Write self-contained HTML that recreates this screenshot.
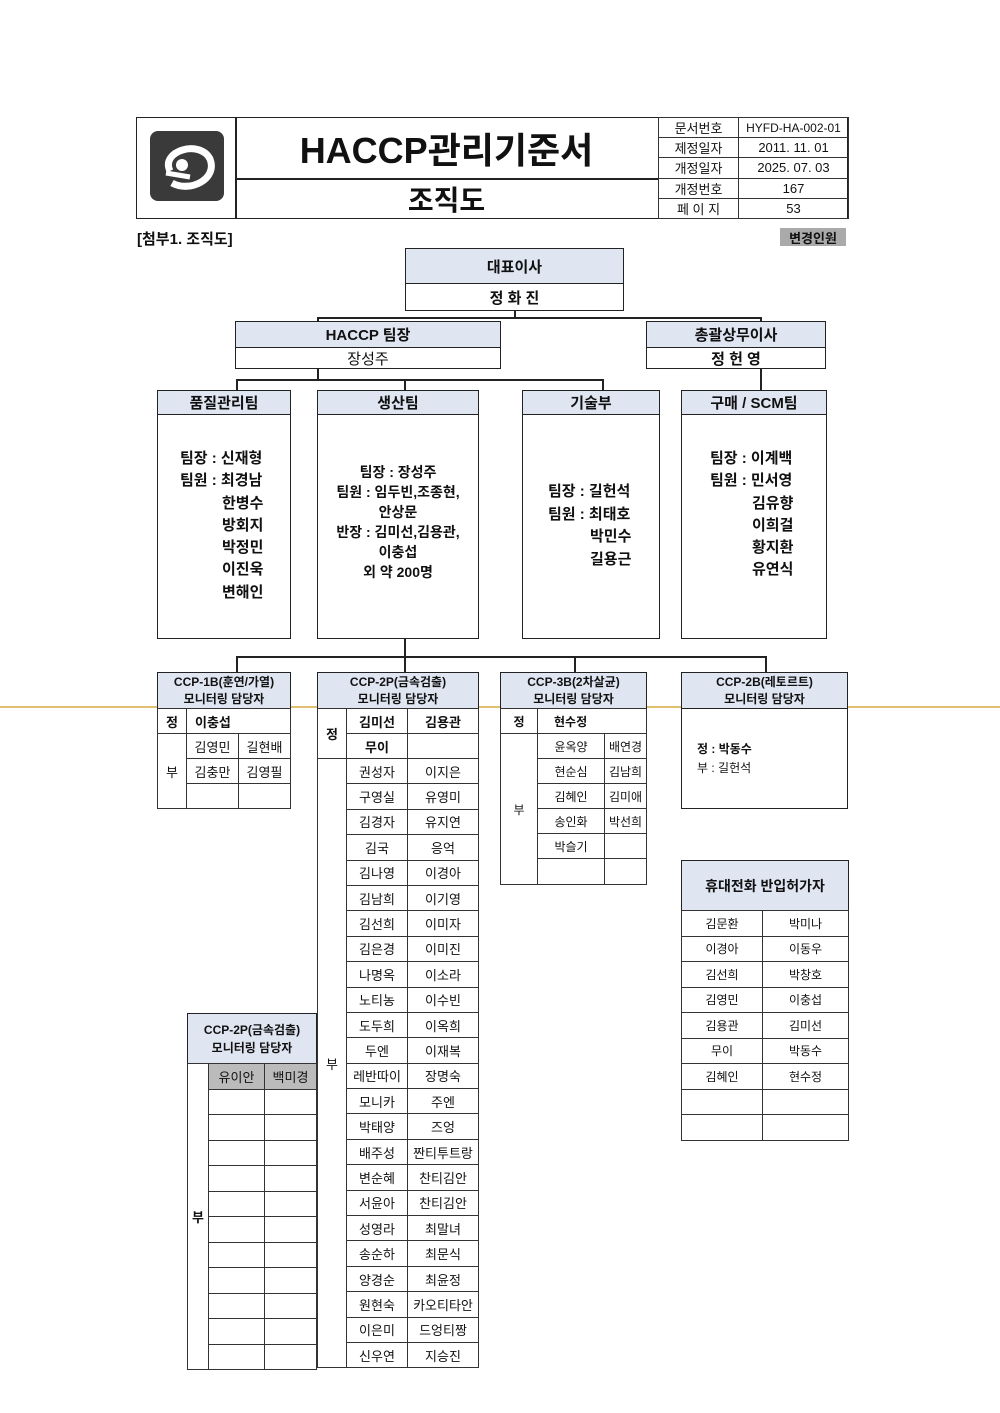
<!DOCTYPE html>
<html><head><meta charset="utf-8"><style>
body{margin:0;background:#fff;}
#p{position:relative;width:1000px;height:1413px;font-family:"Liberation Sans","Noto Sans CJK KR",sans-serif;color:#111;overflow:hidden}
.a{position:absolute;box-sizing:border-box}
.b{border:1.5px solid #222}
.h{background:#dfe5f1;font-weight:bold}
.c{display:flex;align-items:center;justify-content:center;text-align:center}
.l{position:absolute;background:#222}
table{border-collapse:collapse;position:absolute;font-size:13px}
td{border:1px solid #333;text-align:center;padding:0;white-space:nowrap}
</style></head><body><div id="p">
<!-- header -->
<div class="a b" style="left:136px;top:117px;width:712px;height:102px"></div>
<div class="l" style="left:235px;top:117px;width:1.5px;height:102px"></div>
<div class="l" style="left:235px;top:178px;width:423px;height:1.5px"></div>
<div class="a" style="left:150px;top:131px;width:74px;height:70px;background:#3a3a3a;border-radius:8px"></div>
<svg class="a" style="left:150px;top:131px" width="74" height="70"><path d="M20 40 C10 20,50 8,60 28 C68 48,40 62,22 52" fill="none" stroke="#fff" stroke-width="7"/><circle cx="32" cy="34" r="6" fill="#fff"/><path d="M16 42 L40 46" stroke="#fff" stroke-width="5"/></svg>
<div class="a c" style="left:235px;top:117px;width:423px;height:61px;font-size:36px;font-weight:bold">HACCP관리기준서</div>
<div class="a c" style="left:235px;top:178px;width:423px;height:41px;font-size:28px;font-weight:bold">조직도</div>
<table style="left:658px;top:117px;width:190px;height:102px;font-size:13px;table-layout:fixed;border:1.5px solid #222"><col style="width:80px"><col style="width:110px"><tr style="height:20px"><td>문서번호</td><td style="font-size:12px">HYFD-HA-002-01</td></tr><tr style="height:20px"><td>제정일자</td><td>2011. 11. 01</td></tr><tr style="height:20px"><td>개정일자</td><td>2025. 07. 03</td></tr><tr style="height:20px"><td>개정번호</td><td>167</td></tr><tr style="height:20px"><td>페 이 지</td><td>53</td></tr></table>
<div class="a" style="left:137px;top:228px;font-size:15px;font-weight:bold">[첨부1. 조직도]</div>
<div class="a c" style="left:780px;top:228px;width:66px;height:18px;background:#aaa;font-size:13px;font-weight:bold">변경인원</div>
<div class="a" style="left:0;top:706px;width:1000px;height:1.5px;background:#e0c070"></div>
<!-- top boxes -->
<div class="a b h c" style="left:405px;top:248px;width:219px;height:36px;font-size:15px">대표이사</div>
<div class="a b c" style="left:405px;top:283px;width:219px;height:28px;font-size:15px;font-weight:bold">정 화 진</div>
<div class="l" style="left:514px;top:310px;width:1.5px;height:8px"></div>
<div class="l" style="left:317px;top:317px;width:444px;height:1.5px"></div>
<div class="l" style="left:317px;top:317px;width:1.5px;height:5px"></div>
<div class="l" style="left:760px;top:317px;width:1.5px;height:5px"></div>
<div class="a b h c" style="left:235px;top:321px;width:266px;height:27px;font-size:15px">HACCP 팀장</div>
<div class="a b c" style="left:235px;top:347px;width:266px;height:22px;font-size:15px">장성주</div>
<div class="a b h c" style="left:646px;top:321px;width:180px;height:27px;font-size:15px">총괄상무이사</div>
<div class="a b c" style="left:646px;top:347px;width:180px;height:22px;font-size:15px;font-weight:bold">정 헌 영</div>
<div class="l" style="left:317px;top:369px;width:1.5px;height:11px"></div>
<div class="l" style="left:236px;top:379px;width:367px;height:1.5px"></div>
<div class="l" style="left:236px;top:379px;width:1.5px;height:11px"></div>
<div class="l" style="left:404px;top:379px;width:1.5px;height:11px"></div>
<div class="l" style="left:602px;top:379px;width:1.5px;height:11px"></div>
<div class="l" style="left:760px;top:369px;width:1.5px;height:21px"></div>
<!-- teams -->
<div class="a b" style="left:157px;top:390px;width:134px;height:249px"></div><div class="a b h c" style="left:157px;top:390px;width:134px;height:25px;font-size:15px">품질관리팀</div>
<div class="a" style="left:180px;top:448px;font-size:15px;font-weight:bold;line-height:22.3px">팀장 : 신재형<br>팀원 : 최경남<br><span style="padding-left:42px">한병수</span><br><span style="padding-left:42px">방회지</span><br><span style="padding-left:42px">박정민</span><br><span style="padding-left:42px">이진욱</span><br><span style="padding-left:42px">변해인</span></div>
<div class="a b" style="left:317px;top:390px;width:162px;height:249px"></div><div class="a b h c" style="left:317px;top:390px;width:162px;height:25px;font-size:15px">생산팀</div>
<div class="a c" style="left:317px;top:462px;width:162px;font-size:14px;font-weight:bold;line-height:20px;flex-direction:column">팀장 : 장성주<br>팀원 : 임두빈,조종현,<br>안상문<br>반장 : 김미선,김용관,<br>이충섭<br>외 약 200명</div>
<div class="a b" style="left:522px;top:390px;width:138px;height:249px"></div><div class="a b h c" style="left:522px;top:390px;width:138px;height:25px;font-size:15px">기술부</div>
<div class="a" style="left:548px;top:481px;font-size:15px;font-weight:bold;line-height:22.5px">팀장 : 길헌석<br>팀원 : 최태호<br><span style="padding-left:42px">박민수</span><br><span style="padding-left:42px">길용근</span></div>
<div class="a b" style="left:681px;top:390px;width:146px;height:249px"></div><div class="a b h c" style="left:681px;top:390px;width:146px;height:25px;font-size:15px">구매 / SCM팀</div>
<div class="a" style="left:710px;top:448px;font-size:15px;font-weight:bold;line-height:22.3px">팀장 : 이계백<br>팀원 : 민서영<br><span style="padding-left:42px">김유향</span><br><span style="padding-left:42px">이희걸</span><br><span style="padding-left:42px">황지환</span><br><span style="padding-left:42px">유연식</span></div>
<div class="l" style="left:404px;top:638px;width:1.5px;height:19px"></div>
<div class="l" style="left:236px;top:656px;width:530px;height:1.5px"></div>
<div class="l" style="left:236px;top:656px;width:1.5px;height:16px"></div>
<div class="l" style="left:404px;top:656px;width:1.5px;height:16px"></div>
<div class="l" style="left:574px;top:656px;width:1.5px;height:16px"></div>
<div class="l" style="left:765px;top:656px;width:1.5px;height:16px"></div>
<!-- CCP-1B -->
<div class="a b h c" style="left:157px;top:672px;width:134px;height:37px;font-size:12px;line-height:17px">CCP-1B(훈연/가열)<br>모니터링 담당자</div>
<table style="left:157px;top:708px;width:134px;border:1.5px solid #222"><tr style="height:25px"><td style="width:28px;font-weight:bold">정</td><td colspan="2" style="text-align:left;padding-left:8px;font-weight:bold">이충섭</td></tr><tr style="height:25px"><td rowspan="3">부</td><td>김영민</td><td>길현배</td></tr><tr style="height:25px"><td>김충만</td><td>김영필</td></tr><tr style="height:25px"><td></td><td></td></tr></table>
<!-- CCP-2P -->
<div class="a b h c" style="left:317px;top:672px;width:162px;height:37px;font-size:12px;line-height:17px">CCP-2P(금속검출)<br>모니터링 담당자</div>
<table style="left:317px;top:708px;width:162px;border:1.5px solid #222"><tr style="height:25px"><td rowspan="2" style="width:28px;font-weight:bold">정</td><td style="font-weight:bold;width:60px">김미선</td><td style="font-weight:bold">김용관</td></tr><tr style="height:25px"><td style="font-weight:bold">무이</td><td></td></tr>
<tr style="height:25.4px"><td rowspan="24">부</td><td>권성자</td><td>이지은</td></tr>
<tr style="height:25.4px"><td>구영실</td><td>유영미</td></tr><tr style="height:25.4px"><td>김경자</td><td>유지연</td></tr><tr style="height:25.4px"><td>김국</td><td>응억</td></tr><tr style="height:25.4px"><td>김나영</td><td>이경아</td></tr><tr style="height:25.4px"><td>김남희</td><td>이기영</td></tr><tr style="height:25.4px"><td>김선희</td><td>이미자</td></tr><tr style="height:25.4px"><td>김은경</td><td>이미진</td></tr><tr style="height:25.4px"><td>나명옥</td><td>이소라</td></tr><tr style="height:25.4px"><td>노티농</td><td>이수빈</td></tr><tr style="height:25.4px"><td>도두희</td><td>이옥희</td></tr><tr style="height:25.4px"><td>두엔</td><td>이재복</td></tr><tr style="height:25.4px"><td>레반따이</td><td>장명숙</td></tr><tr style="height:25.4px"><td>모니카</td><td>주엔</td></tr><tr style="height:25.4px"><td>박태양</td><td>즈엉</td></tr><tr style="height:25.4px"><td>배주성</td><td>짠티투트랑</td></tr><tr style="height:25.4px"><td>변순혜</td><td>찬티김안</td></tr><tr style="height:25.4px"><td>서윤아</td><td>찬티김안</td></tr><tr style="height:25.4px"><td>성영라</td><td>최말녀</td></tr><tr style="height:25.4px"><td>송순하</td><td>최문식</td></tr><tr style="height:25.4px"><td>양경순</td><td>최윤정</td></tr><tr style="height:25.4px"><td>원현숙</td><td>카오티타안</td></tr><tr style="height:25.4px"><td>이은미</td><td>드엉티짱</td></tr><tr style="height:25.4px"><td>신우연</td><td>지승진</td></tr></table>
<!-- CCP-3B -->
<div class="a b h c" style="left:500px;top:672px;width:147px;height:37px;font-size:12px;line-height:17px">CCP-3B(2차살균)<br>모니터링 담당자</div>
<table style="left:500px;top:708px;width:147px;border:1.5px solid #222;font-size:12px"><tr style="height:25px"><td style="width:36px;font-weight:bold">정</td><td colspan="2" style="text-align:left;padding-left:16px;font-weight:bold">현수정</td></tr><tr style="height:25px"><td rowspan="6">부</td><td style="width:66px">윤옥양</td><td>배연경</td></tr><tr style="height:25px"><td>현순심</td><td>김남희</td></tr><tr style="height:25px"><td>김혜인</td><td>김미애</td></tr><tr style="height:25px"><td>송인화</td><td>박선희</td></tr><tr style="height:25px"><td>박슬기</td><td></td></tr><tr style="height:26px"><td></td><td></td></tr></table>
<!-- CCP-2B -->
<div class="a b h c" style="left:681px;top:672px;width:167px;height:37px;font-size:12px;line-height:17px">CCP-2B(레토르트)<br>모니터링 담당자</div>
<div class="a b" style="left:681px;top:708px;width:167px;height:101px"></div>
<div class="a" style="left:697px;top:740px;font-size:12px;line-height:19px"><b>정 : 박동수</b><br>부 : 길헌석</div>
<!-- phone -->
<div class="a b h c" style="left:681px;top:860px;width:168px;height:51px;font-size:14px">휴대전화 반입허가자</div>
<table style="left:681px;top:910px;width:168px;border:1.5px solid #222;font-size:12px"><tr style="height:25.5px"><td style="width:80px">김문환</td><td>박미나</td></tr><tr style="height:25.5px"><td>이경아</td><td>이동우</td></tr><tr style="height:25.5px"><td>김선희</td><td>박창호</td></tr><tr style="height:25.5px"><td>김영민</td><td>이충섭</td></tr><tr style="height:25.5px"><td>김용관</td><td>김미선</td></tr><tr style="height:25.5px"><td>무이</td><td>박동수</td></tr><tr style="height:25.5px"><td>김혜인</td><td>현수정</td></tr><tr style="height:25.5px"><td></td><td></td></tr><tr style="height:25.5px"><td></td><td></td></tr></table>
<!-- bottom left -->
<div class="a b h c" style="left:187px;top:1013px;width:130px;height:51px;font-size:12px;line-height:18px">CCP-2P(금속검출)<br>모니터링 담당자</div>
<table style="left:187px;top:1063px;width:130px;border:1.5px solid #222"><tr style="height:25.5px"><td rowspan="12" style="width:20px;font-weight:bold">부</td><td style="background:#bbb;width:55px">유이안</td><td style="background:#bbb">백미경</td></tr>
<tr style="height:25.5px"><td></td><td></td></tr><tr style="height:25.5px"><td></td><td></td></tr><tr style="height:25.5px"><td></td><td></td></tr><tr style="height:25.5px"><td></td><td></td></tr><tr style="height:25.5px"><td></td><td></td></tr><tr style="height:25.5px"><td></td><td></td></tr><tr style="height:25.5px"><td></td><td></td></tr><tr style="height:25.5px"><td></td><td></td></tr><tr style="height:25.5px"><td></td><td></td></tr><tr style="height:25.5px"><td></td><td></td></tr><tr style="height:25.5px"><td></td><td></td></tr></table>
</div></body></html>
